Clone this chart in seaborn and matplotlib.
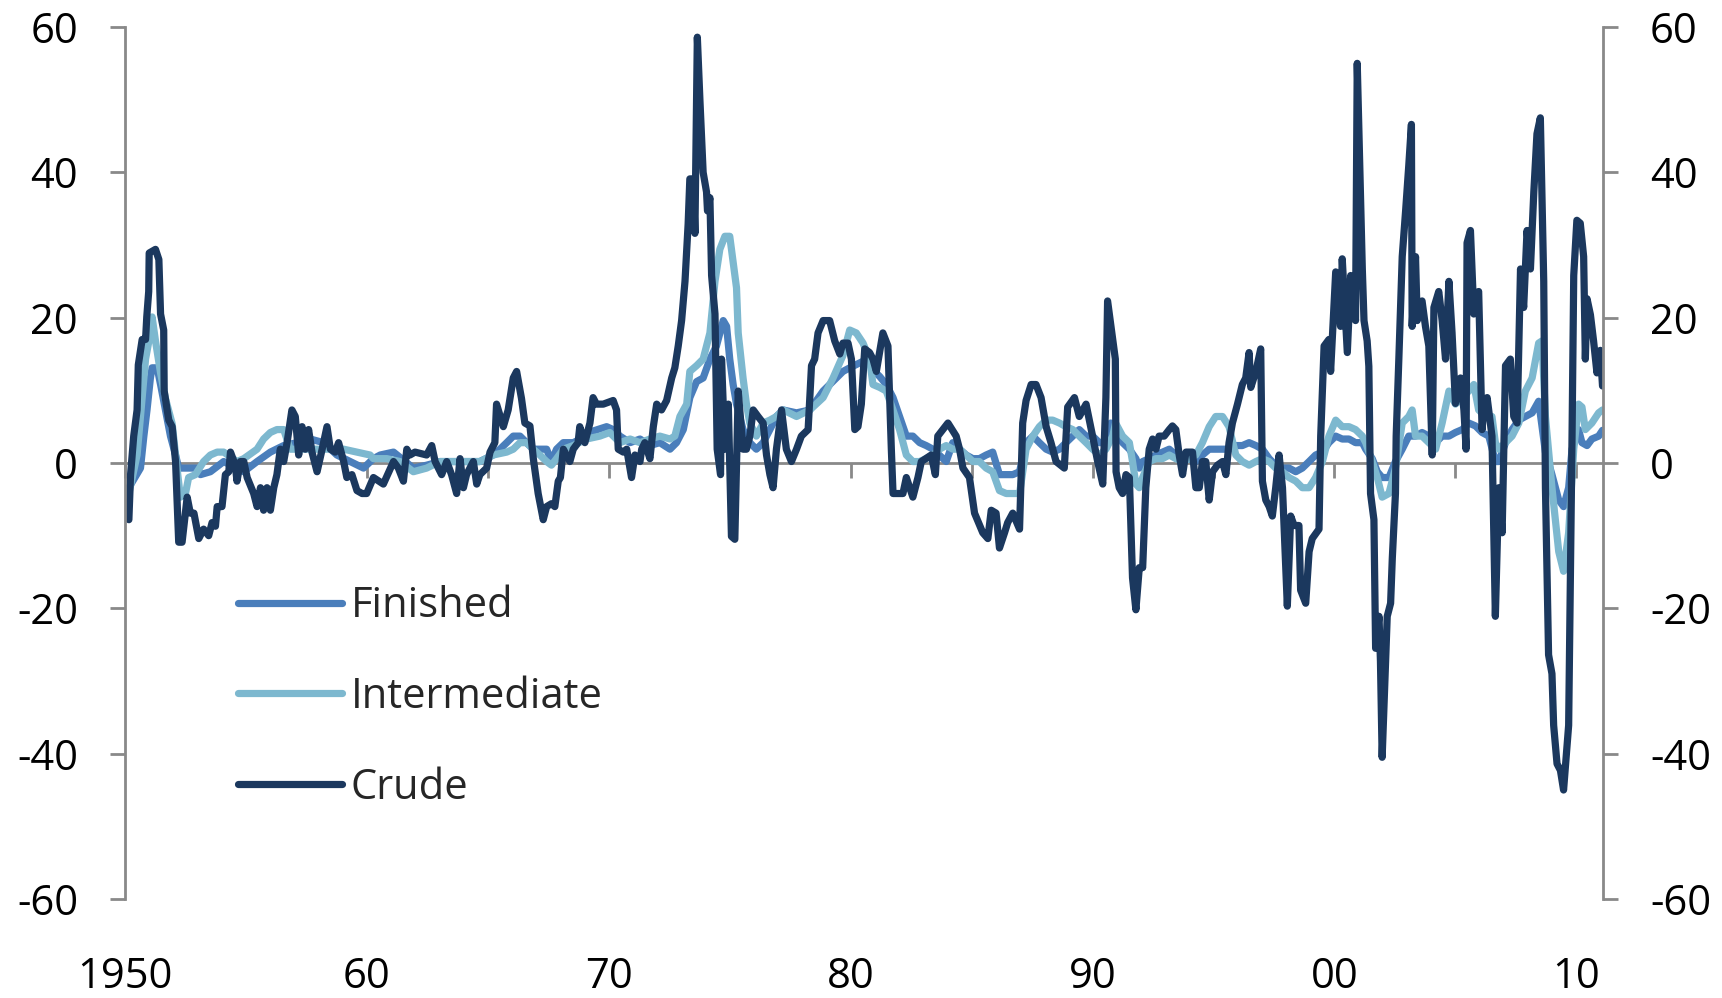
import matplotlib
matplotlib.use("Agg")
import matplotlib.pyplot as plt
import seaborn as sns

sns.set_style("white")
plt.rcParams['font.family'] = ['Open Sans', 'DejaVu Sans']

# ---------------- data ----------------
finished_year = [1950.16, 1950.64, 1950.78, 1950.91, 1951.05, 1951.12, 1951.33, 1951.47, 1951.67, 1951.88,
                 1952.09, 1952.22, 1952.36, 1952.98, 1953.12, 1953.53, 1954.08, 1954.91, 1955.46, 1956.01,
                 1956.56, 1957.11, 1957.66, 1958.21, 1958.76, 1959.31, 1959.86, 1960.27, 1960.55, 1961.10,
                 1961.92, 1962.47, 1963.02, 1964.12, 1964.67, 1965.22, 1965.50, 1965.78, 1966.05, 1966.33,
                 1966.60, 1966.88, 1967.43, 1967.63, 1967.84, 1968.12, 1968.53, 1969.08, 1969.35, 1969.91,
                 1970.18, 1970.46, 1970.88, 1971.29, 1971.70, 1972.11, 1972.53, 1972.80, 1973.08, 1973.35,
                 1973.63, 1973.90, 1974.18, 1974.45, 1974.73, 1974.87, 1975.00, 1975.14, 1975.28, 1975.55,
                 1975.83, 1976.10, 1976.38, 1976.66, 1976.93, 1977.21, 1977.76, 1978.31, 1978.86, 1979.41,
                 1979.68, 1979.96, 1980.51, 1980.78, 1980.92, 1981.20, 1981.47, 1981.75, 1982.02, 1982.30,
                 1982.57, 1982.85, 1983.12, 1983.40, 1983.95, 1984.22, 1984.50, 1984.77, 1985.05, 1985.32,
                 1985.60, 1985.87, 1986.15, 1986.70, 1986.98, 1987.25, 1987.53, 1987.80, 1988.08, 1988.35,
                 1988.63, 1988.90, 1989.18, 1989.45, 1989.73, 1990.00, 1990.28, 1990.55, 1990.75, 1991.00,
                 1991.24, 1991.52, 1991.79, 1991.93, 1992.07, 1992.34, 1992.62, 1992.89, 1993.17, 1993.44,
                 1993.72, 1993.99, 1994.27, 1994.54, 1994.82, 1995.64, 1995.92, 1996.19, 1996.47, 1996.75,
                 1997.02, 1997.30, 1997.57, 1997.85, 1998.12, 1998.40, 1998.67, 1998.95, 1999.22, 1999.50,
                 1999.77, 2000.05, 2000.32, 2000.60, 2000.87, 2001.15, 2001.29, 2001.56, 2001.77, 2001.97,
                 2002.25, 2002.52, 2002.80, 2003.07, 2003.35, 2003.62, 2003.90, 2004.18, 2004.45, 2004.73,
                 2005.00, 2005.28, 2005.55, 2005.83, 2006.10, 2006.38, 2006.65, 2006.79, 2007.07, 2007.34,
                 2007.62, 2007.89, 2008.17, 2008.44, 2008.72, 2008.99, 2009.27, 2009.47, 2009.68, 2009.82,
                 2010.09, 2010.23, 2010.44, 2010.64, 2010.92, 2011.08]
finished_value = [-3.4, -0.7, 3.7, 7.3, 11.7, 13.1, 13.1, 10.8, 7.3, 3.7,
                  1.1, -0.7, -0.7, -0.7, -1.6, -1.2, 0.2, -1.2, 0.2, 1.5,
                  2.4, 2.8, 3.3, 2.8, 1.1, 0.2, -0.7, 0.6, 1.1, 1.5,
                  -0.7, -0.3, 0.2, 0.2, 0.2, 1.1, 1.9, 2.8, 3.7, 3.7,
                  2.8, 1.9, 1.9, 0.2, 1.9, 2.8, 2.8, 3.7, 4.4, 5.0,
                  4.6, 3.7, 2.8, 3.3, 2.4, 2.8, 1.9, 2.8, 4.6, 9.0,
                  11.2, 11.7, 14.3, 16.1, 19.6, 18.8, 14.3, 10.8, 8.1, 4.6,
                  2.8, 1.9, 2.8, 4.6, 6.4, 7.3, 6.9, 7.3, 9.9, 11.7,
                  12.6, 13.1, 14.0, 14.3, 12.8, 11.9, 10.8, 9.0, 6.4, 3.7,
                  3.7, 2.8, 2.4, 1.9, 0.2, 2.8, 1.9, 1.1, 0.6, 0.6,
                  1.1, 1.5, -1.6, -1.6, -1.2, 2.8, 3.7, 2.8, 1.9, 1.5,
                  1.9, 2.8, 3.7, 4.6, 3.7, 3.7, 2.8, 2.8, 5.5, 4.6,
                  2.8, 1.9, 0.6, -0.7, 0.2, 0.6, 1.1, 1.5, 1.9, 1.1,
                  0.2, 0.6, 0.2, 1.1, 1.9, 1.9, 2.4, 2.4, 2.8, 2.4,
                  1.9, 0.6, -0.3, -0.7, -0.7, -1.2, -0.7, 0.2, 1.1, 1.5,
                  2.8, 3.7, 3.3, 3.3, 2.8, 2.8, 1.9, 0.6, -1.2, -2.0,
                  -2.0, 0.2, 1.9, 3.7, 3.7, 4.2, 3.7, 2.8, 3.7, 3.7,
                  4.2, 4.6, 5.5, 5.1, 4.2, 3.7, 0.2, 0.2, 2.8, 4.6,
                  5.9, 6.4, 6.9, 8.5, 1.5, -1.6, -5.1, -6.0, -3.4, 1.9,
                  4.6, 2.8, 2.4, 3.3, 3.7, 4.5]

intermediate_year = [1950.16, 1950.50, 1950.71, 1950.85, 1951.05, 1951.12, 1951.26, 1951.47, 1951.67, 1951.95,
                     1952.15, 1952.29, 1952.50, 1952.63, 1952.91, 1953.25, 1953.53, 1953.81, 1954.08, 1954.63,
                     1954.91, 1955.46, 1955.73, 1956.01, 1956.28, 1956.56, 1956.83, 1959.04, 1959.59, 1960.13,
                     1960.27, 1960.82, 1961.37, 1961.92, 1962.47, 1963.02, 1964.67, 1965.22, 1965.78, 1966.05,
                     1966.33, 1966.60, 1966.88, 1967.15, 1967.43, 1967.63, 1967.84, 1968.12, 1968.53, 1969.08,
                     1969.63, 1970.04, 1970.46, 1970.88, 1971.29, 1971.70, 1972.11, 1972.53, 1972.73, 1972.94,
                     1973.22, 1973.35, 1973.63, 1973.90, 1974.18, 1974.39, 1974.59, 1974.80, 1975.00, 1975.14,
                     1975.28, 1975.35, 1975.55, 1975.69, 1975.83, 1976.10, 1976.38, 1976.66, 1976.93, 1977.21,
                     1977.76, 1978.31, 1978.86, 1979.27, 1979.68, 1979.96, 1980.23, 1980.51, 1980.78, 1980.92,
                     1981.20, 1981.47, 1981.75, 1982.02, 1982.30, 1982.57, 1982.85, 1983.12, 1983.40, 1983.67,
                     1983.95, 1984.22, 1984.50, 1984.77, 1985.05, 1985.32, 1985.60, 1985.87, 1986.15, 1986.43,
                     1986.98, 1987.25, 1987.53, 1987.80, 1988.08, 1988.35, 1988.63, 1988.90, 1989.18, 1989.45,
                     1989.73, 1990.00, 1990.28, 1990.55, 1990.83, 1990.95, 1991.24, 1991.52, 1991.65, 1991.79,
                     1991.93, 1992.07, 1992.34, 1992.62, 1992.89, 1993.17, 1993.44, 1993.72, 1993.99, 1994.27,
                     1994.54, 1994.82, 1995.09, 1995.37, 1995.64, 1995.92, 1996.19, 1996.47, 1996.75, 1997.02,
                     1997.30, 1997.57, 1997.85, 1998.12, 1998.40, 1998.67, 1998.95, 1999.22, 1999.50, 1999.77,
                     2000.05, 2000.32, 2000.60, 2000.87, 2001.15, 2001.29, 2001.56, 2001.77, 2001.97, 2002.25,
                     2002.52, 2002.80, 2003.07, 2003.21, 2003.35, 2003.62, 2003.90, 2004.18, 2004.45, 2004.73,
                     2005.00, 2005.28, 2005.55, 2005.76, 2005.96, 2006.24, 2006.51, 2006.65, 2006.79, 2007.07,
                     2007.34, 2007.62, 2007.89, 2008.17, 2008.44, 2008.58, 2008.72, 2008.99, 2009.27, 2009.47,
                     2009.68, 2009.89, 2010.09, 2010.23, 2010.37, 2010.64, 2010.92, 2011.08]
intermediate_value = [-4.2, 1.1, 9.0, 14.3, 17.9, 20.1, 16.8, 12.4, 8.9, 5.4,
                      -0.7, -4.7, -4.2, -2.0, -1.6, 0.2, 1.1, 1.5, 1.5, 0.2,
                      0.6, 1.9, 3.3, 4.2, 4.6, 4.6, 1.9, 1.9, 1.5, 1.1,
                      0.6, 0.6, 0.2, -1.2, -0.7, 0.2, 0.2, 1.1, 1.5, 1.9,
                      2.8, 2.8, 1.9, 1.1, 0.2, -0.3, 0.6, 1.9, 2.4, 3.3,
                      3.7, 4.2, 2.8, 3.3, 2.8, 3.3, 3.7, 3.3, 3.7, 6.4,
                      8.1, 12.6, 13.4, 14.3, 17.9, 25.0, 29.4, 31.2, 31.2, 27.6,
                      24.1, 17.9, 11.7, 8.1, 5.5, 3.7, 5.5, 5.9, 6.4, 7.3,
                      6.4, 7.3, 9.0, 11.7, 14.8, 18.3, 17.9, 16.5, 14.3, 10.8,
                      10.4, 9.9, 7.3, 4.6, 1.1, 0.2, 0.2, 0.6, 1.1, 1.9,
                      2.4, 1.9, 1.9, 1.1, 0.2, 0.2, -0.7, -1.2, -3.8, -4.2,
                      -4.2, 1.9, 3.7, 5.0, 5.9, 5.9, 5.5, 5.0, 4.6, 3.7,
                      2.8, 1.9, 1.1, 1.9, 3.7, 5.5, 3.7, 2.8, 0.2, -2.9,
                      -3.4, -2.0, 0.2, 0.6, 0.6, 1.1, 0.6, 0.2, 0.6, 1.1,
                      2.8, 5.0, 6.4, 6.4, 5.0, 1.1, 0.2, -0.3, 0.2, 0.6,
                      0.2, -0.7, -1.2, -2.0, -2.5, -3.4, -3.4, -2.0, 0.2, 3.7,
                      5.9, 5.0, 5.0, 4.6, 3.7, 2.8, 0.2, -2.0, -4.7, -4.2,
                      -0.7, 5.5, 6.4, 7.3, 3.7, 3.7, 2.8, 1.9, 5.5, 9.9,
                      8.1, 9.0, 9.9, 10.8, 7.3, 6.4, 6.4, 2.8, 1.9, 2.8,
                      3.7, 5.5, 9.9, 11.7, 16.5, 16.8, 6.4, -3.4, -12.2, -14.9,
                      -9.6, 1.9, 8.1, 7.7, 4.6, 5.5, 6.9, 7.3]

crude_year = [1950.16, 1950.23, 1950.36, 1950.50, 1950.55, 1950.71, 1950.85, 1950.90, 1950.98, 1951.00,
              1951.26, 1951.40, 1951.47, 1951.60, 1951.62, 1951.81, 1951.95, 1952.09, 1952.22, 1952.36,
              1952.57, 1952.70, 1952.85, 1953.05, 1953.25, 1953.46, 1953.60, 1953.74, 1953.81, 1954.01,
              1954.15, 1954.29, 1954.36, 1954.56, 1954.63, 1954.77, 1954.91, 1955.05, 1955.32, 1955.46,
              1955.60, 1955.73, 1955.87, 1956.01, 1956.15, 1956.28, 1956.42, 1956.56, 1956.70, 1956.90,
              1957.04, 1957.18, 1957.32, 1957.45, 1957.59, 1957.73, 1957.94, 1958.15, 1958.35, 1958.49,
              1958.69, 1958.83, 1959.04, 1959.17, 1959.38, 1959.59, 1959.80, 1959.99, 1960.27, 1960.68,
              1961.10, 1961.30, 1961.51, 1961.65, 1961.78, 1961.99, 1962.47, 1962.68, 1962.82, 1963.09,
              1963.30, 1963.50, 1963.71, 1963.85, 1963.99, 1964.12, 1964.40, 1964.54, 1964.67, 1964.95,
              1965.09, 1965.29, 1965.36, 1965.64, 1965.84, 1966.05, 1966.19, 1966.39, 1966.53, 1966.74,
              1966.88, 1967.08, 1967.29, 1967.43, 1967.63, 1967.77, 1967.91, 1968.00, 1968.12, 1968.39,
              1968.53, 1968.73, 1968.80, 1969.01, 1969.22, 1969.35, 1969.49, 1969.77, 1970.18, 1970.32,
              1970.39, 1970.60, 1970.74, 1970.94, 1971.08, 1971.29, 1971.36, 1971.49, 1971.70, 1971.84,
              1971.98, 1972.18, 1972.39, 1972.60, 1972.73, 1972.87, 1973.01, 1973.15, 1973.28, 1973.35,
              1973.49, 1973.56, 1973.66, 1973.77, 1973.90, 1974.04, 1974.08, 1974.18, 1974.25, 1974.39,
              1974.48, 1974.62, 1974.66, 1974.80, 1974.94, 1975.07, 1975.21, 1975.35, 1975.55, 1975.69,
              1975.83, 1975.97, 1976.17, 1976.38, 1976.52, 1976.66, 1976.79, 1976.93, 1977.14, 1977.34,
              1977.55, 1977.76, 1977.96, 1978.24, 1978.38, 1978.51, 1978.65, 1978.86, 1979.13, 1979.34,
              1979.55, 1979.68, 1979.89, 1980.03, 1980.17, 1980.30, 1980.44, 1980.58, 1980.78, 1980.92,
              1981.06, 1981.33, 1981.54, 1981.68, 1981.75, 1982.16, 1982.30, 1982.57, 1982.78, 1982.92,
              1983.33, 1983.50, 1983.60, 1983.81, 1984.02, 1984.36, 1984.50, 1984.64, 1984.91, 1985.12,
              1985.46, 1985.67, 1985.81, 1986.01, 1986.15, 1986.36, 1986.49, 1986.70, 1986.98, 1987.11,
              1987.25, 1987.46, 1987.66, 1987.87, 1988.08, 1988.28, 1988.49, 1988.83, 1988.97, 1989.25,
              1989.45, 1989.73, 1990.00, 1990.21, 1990.42, 1990.55, 1990.62, 1990.94, 1990.97, 1991.10,
              1991.24, 1991.38, 1991.52, 1991.65, 1991.79, 1991.93, 1992.07, 1992.20, 1992.34, 1992.48,
              1992.62, 1992.75, 1992.96, 1993.17, 1993.30, 1993.44, 1993.58, 1993.72, 1993.86, 1994.13,
              1994.27, 1994.41, 1994.54, 1994.68, 1994.82, 1994.96, 1995.16, 1995.37, 1995.51, 1995.64,
              1995.78, 1995.99, 1996.19, 1996.33, 1996.47, 1996.54, 1996.75, 1996.95, 1997.02, 1997.16,
              1997.30, 1997.43, 1997.57, 1997.71, 1997.85, 1998.05, 1998.19, 1998.33, 1998.53, 1998.60,
              1998.81, 1998.95, 1999.08, 1999.36, 1999.43, 1999.57, 1999.77, 1999.84, 2000.05, 2000.25,
              2000.32, 2000.53, 2000.67, 2000.87, 2000.94, 2001.15, 2001.22, 2001.35, 2001.42, 2001.49,
              2001.63, 2001.70, 2001.84, 2001.90, 2001.97, 2002.18, 2002.32, 2002.39, 2002.52, 2002.55,
              2002.66, 2002.80, 2002.94, 2003.07, 2003.18, 2003.21, 2003.35, 2003.42, 2003.62, 2003.76,
              2003.90, 2004.04, 2004.11, 2004.31, 2004.45, 2004.59, 2004.73, 2004.86, 2005.00, 2005.14,
              2005.21, 2005.35, 2005.44, 2005.48, 2005.62, 2005.76, 2005.83, 2005.96, 2006.10, 2006.17,
              2006.31, 2006.51, 2006.65, 2006.79, 2006.93, 2007.07, 2007.27, 2007.41, 2007.55, 2007.69,
              2007.82, 2007.96, 2008.10, 2008.24, 2008.37, 2008.51, 2008.65, 2008.72, 2008.85, 2008.99,
              2009.06, 2009.20, 2009.34, 2009.47, 2009.68, 2009.82, 2009.89, 2010.02, 2010.16, 2010.30,
              2010.37, 2010.44, 2010.58, 2010.71, 2010.85, 2010.99, 2011.08]
crude_value = [-7.8, -1.6, 3.7, 7.3, 13.5, 17.0, 17.0, 20.1, 23.6, 28.9,
               29.4, 28.0, 20.5, 18.3, 9.9, 5.9, 5.0, 0.2, -10.9, -10.9,
               -4.7, -6.9, -6.9, -10.4, -9.1, -10.0, -8.2, -8.7, -6.0, -6.0,
               -1.6, -1.2, 1.5, -0.3, -2.5, 0.2, 0.2, -2.0, -4.2, -6.0,
               -3.4, -6.5, -3.4, -6.5, -3.4, -1.6, 1.9, 0.2, 2.8, 7.3,
               6.4, 1.1, 5.0, 1.9, 4.6, 1.5, -1.2, 1.9, 5.0, 1.9,
               1.5, 2.8, 0.2, -2.0, -1.6, -3.8, -4.2, -4.2, -2.0, -2.9,
               0.2, -0.7, -2.5, 1.9, 1.1, 1.5, 1.1, 2.4, 0.2, -1.6,
               0.2, -1.6, -4.2, 0.6, -3.4, -1.6, 0.2, -2.9, -1.6, -0.7,
               1.5, 2.8, 8.1, 5.0, 7.3, 11.7, 12.6, 8.9, 5.5, 5.1,
               0.6, -4.2, -7.8, -6.0, -5.6, -6.0, -2.5, -2.0, 1.9, 0.2,
               1.9, 2.8, 5.0, 2.8, 5.5, 9.0, 8.1, 8.1, 8.6, 7.3,
               1.9, 1.5, 1.9, -2.0, 1.1, 0.2, 1.9, 2.8, 0.6, 5.0,
               8.1, 7.3, 8.6, 11.7, 13.1, 16.1, 19.6, 25.0, 32.9, 39.1,
               39.1, 31.6, 58.6, 49.7, 40.0, 37.3, 34.7, 36.5, 25.8, 20.5,
               1.9, -1.6, 14.3, 1.9, 8.1, -10.1, -10.5, 9.9, 1.9, 1.9,
               3.7, 7.3, 6.4, 5.5, 1.1, -1.6, -3.4, 1.9, 7.3, 1.9,
               0.2, 1.9, 3.7, 4.6, 13.4, 14.3, 17.9, 19.6, 19.6, 16.8,
               15.0, 16.5, 16.5, 14.3, 4.6, 5.0, 8.1, 15.7, 15.2, 14.3,
               12.6, 17.9, 16.1, 1.9, -4.2, -4.2, -2.0, -4.7, -2.0, 0.2,
               1.1, -1.6, 3.7, 4.6, 5.5, 3.7, 1.9, -0.7, -2.0, -6.9,
               -9.6, -10.4, -6.5, -6.9, -11.7, -9.6, -8.2, -6.9, -9.1, 5.5,
               8.6, 10.8, 10.8, 9.0, 5.0, 2.8, 0.2, -0.7, 7.7, 9.0,
               6.4, 8.1, 3.7, 0.2, -2.9, 9.0, 22.3, 14.3, -1.2, -3.4,
               -4.2, -1.6, -2.0, -15.8, -20.2, -14.4, -14.4, -3.4, 1.9, 3.3,
               1.9, 3.7, 3.7, 4.6, 5.1, 4.6, 1.1, -1.6, 1.5, 1.5,
               -3.4, -3.4, 0.2, 0.2, -5.1, -1.2, -0.3, 0.2, -1.6, 2.8,
               5.5, 8.1, 10.8, 11.7, 15.2, 10.4, 12.6, 15.7, -2.5, -5.1,
               -6.0, -7.3, -3.4, 1.1, -3.4, -19.7, -7.3, -8.6, -8.6, -17.5,
               -19.3, -12.2, -10.4, -9.1, 3.7, 16.1, 17.0, 12.6, 26.3, 18.8,
               28.1, 15.2, 25.8, 19.6, 55.0, 26.7, 19.6, 16.8, 13.3, -4.2,
               -7.8, -25.5, -21.1, -27.3, -40.5, -21.1, -19.3, -13.1, -4.2, 3.7,
               14.3, 28.4, 34.7, 40.9, 46.6, 18.8, 28.4, 19.6, 22.3, 18.8,
               16.1, 1.1, 21.4, 23.6, 19.6, 14.3, 25.0, 17.9, 8.2, 10.8,
               11.7, 7.3, 1.9, 30.3, 32.0, 20.5, 23.2, 23.6, 4.6, 7.3,
               9.0, 3.7, -21.1, -3.4, -9.6, 13.4, 14.3, 6.4, 5.5, 26.7,
               21.4, 32.0, 26.7, 37.3, 45.3, 47.5, 25.0, -3.4, -26.4, -29.0,
               -36.1, -41.4, -42.3, -45.0, -36.1, 3.7, 25.8, 33.4, 33.0, 28.4,
               14.3, 22.6, 20.4, 16.8, 12.4, 15.5, 10.6]

series_names = ["Finished", "Intermediate", "Crude"]
series_colors = ["#4A7EBB", "#7DB8CF", "#1B385E"]
x_tick_years = [1950, 1960, 1970, 1980, 1990, 2000, 2010]
x_tick_labels = ["1950", "60", "70", "80", "90", "00", "10"]
y_ticks = [-60, -40, -20, 0, 20, 40, 60]

# ---------------- figure ----------------
W, H = 1722, 998
fig = plt.figure(figsize=(W / 100, H / 100), dpi=100)
ax = fig.add_axes([125 / W, 1 - 899 / H, (1603 - 125) / W, (899 - 27) / H])

gray = "#898989"
fs = 30
lw = 5.2

for xs, ys, color, name in zip([finished_year, intermediate_year, crude_year],
                               [finished_value, intermediate_value, crude_value],
                               series_colors, series_names):
    sns.lineplot(x=xs, y=ys, ax=ax, color=color, label=name,
                 sort=False, estimator=None)

for line in ax.get_lines():
    line.set_linewidth(lw)
    line.set_solid_capstyle("round")
    line.set_solid_joinstyle("round")

ax.set_xlim(1950, 2011.1)
ax.set_ylim(-60, 60)
ax.set_xlabel("")
ax.set_ylabel("")

# y axes on both sides
ax.set_yticks(y_ticks)
ax.set_yticklabels([str(v) for v in y_ticks])
ax.tick_params(axis="y", which="both", left=True, right=True, labelleft=True,
               labelright=True, direction="out", length=10.8, width=2,
               color=gray, pad=23, labelsize=fs, labelcolor="black")
for side in ["left", "right"]:
    ax.spines[side].set_visible(True)
    ax.spines[side].set_color(gray)
    ax.spines[side].set_linewidth(2)
for side in ["top", "bottom"]:
    ax.spines[side].set_visible(False)

# x labels at bottom
ax.set_xticks(x_tick_years)
ax.set_xticklabels(x_tick_labels)
ax.tick_params(axis="x", which="both", bottom=True, length=0, pad=41,
               labelsize=fs, labelcolor="black")

# horizontal axis line at zero with tick marks every 5 years
secax = ax.secondary_xaxis(0.5)
secax.set_alignment("bottom")
secax.set_xticks(list(range(1950, 2011, 5)))
secax.tick_params(axis="x", direction="out", length=10.8, width=2, color=gray,
                  labelbottom=False, labeltop=False)
secax.spines["bottom"].set_color(gray)
secax.spines["bottom"].set_linewidth(2)
secax.set_zorder(1.5)

leg = ax.legend(loc="center left", bbox_to_anchor=(238 / W, 1 - 697 / H),
                bbox_transform=fig.transFigure, frameon=False, fontsize=fs,
                handlelength=2.5, handletextpad=0.2, labelspacing=1.17,
                borderpad=0, borderaxespad=0)

fig.savefig("out.png", dpi=100)
